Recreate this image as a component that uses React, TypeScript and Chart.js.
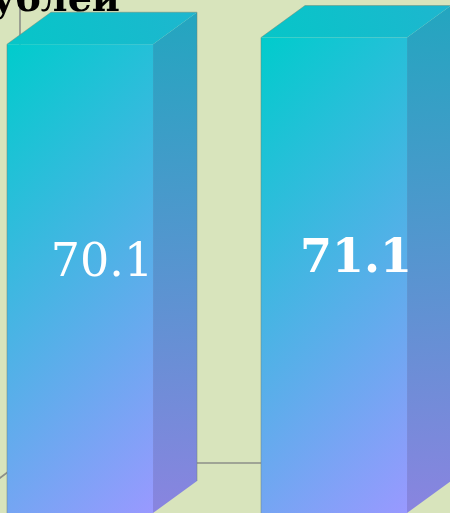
import React, { useEffect, useRef } from "react";
import { Chart, registerables } from "chart.js";

Chart.register(...registerables);

// ---- data ----
const categories = ["1", "2"];
const values = [70.1, 71.1];
const labelBold = [false, true];
const valueMin = 0;
const valueMax = 80;
const titleText = "рублей";

// ---- styling ----
const BG = "#d8e4bc";
const DEPTH = { dx: 44, dy: -32 };
const WALL = { dx: 67, dy: -50 };
const CANVAS_W = 600;
const CANVAS_H = 620;
const OFFSET_X = 100;
const OFFSET_Y = 80;

function grad(ctx: CanvasRenderingContext2D, x0: number, y0: number, x1: number, y1: number, c0: string, c1: string) {
  const g = ctx.createLinearGradient(x0, y0, x1, y1);
  g.addColorStop(0, c0);
  g.addColorStop(1, c1);
  return g;
}

const bar3d = {
  id: "bar3d",
  beforeDraw(chart: any) {
    const ctx = chart.ctx;
    ctx.save();
    ctx.fillStyle = BG;
    ctx.fillRect(0, 0, chart.width, chart.height);
    ctx.restore();
  },
  beforeDatasetsDraw(chart: any) {
    const { ctx, chartArea: a, scales } = chart;
    const y = scales.y;
    const y0 = y.getPixelForValue(valueMin);
    const yTop = y.getPixelForValue(valueMax);
    const wx = a.left + WALL.dx;
    const wy = y0 + WALL.dy;
    ctx.save();
    ctx.strokeStyle = "#8c8f88";
    ctx.lineWidth = 1.6;
    ctx.beginPath();
    ctx.moveTo(wx, yTop + WALL.dy);
    ctx.lineTo(wx, wy);
    ctx.lineTo(a.right + WALL.dx, wy);
    ctx.moveTo(wx, wy);
    ctx.lineTo(a.left, y0);
    ctx.stroke();
    ctx.restore();
  },
  afterDatasetsDraw(chart: any) {
    const ctx: CanvasRenderingContext2D = chart.ctx;
    const meta = chart.getDatasetMeta(0);
    const { dx, dy } = DEPTH;
    meta.data.forEach((bar: any, i: number) => {
      const { x, y: top, base, width } = bar.getProps(["x", "y", "base", "width"], true);
      const l = x - width / 2;
      const r = x + width / 2;
      const h = base - top;
      ctx.save();
      // side face
      ctx.beginPath();
      ctx.moveTo(r, top);
      ctx.lineTo(r + dx, top + dy);
      ctx.lineTo(r + dx, base + dy);
      ctx.lineTo(r, base);
      ctx.closePath();
      ctx.fillStyle = grad(ctx, r, top + dy, r + dx, base, "#22a6bf", "#8a84e0");
      ctx.fill();
      // top face
      ctx.beginPath();
      ctx.moveTo(l, top);
      ctx.lineTo(r, top);
      ctx.lineTo(r + dx, top + dy);
      ctx.lineTo(l + dx, top + dy);
      ctx.closePath();
      ctx.fillStyle = grad(ctx, l, top, r + dx, top + dy, "#06c6c8", "#1eb6cf");
      ctx.fill();
      // front face
      const s = (width + h) / 2;
      ctx.fillStyle = grad(ctx, l, top, l + s, top + s, "#00cccc", "#9999ff");
      ctx.fillRect(l, top, width, h);
      // thin edges
      ctx.strokeStyle = "rgba(110,130,110,0.45)";
      ctx.lineWidth = 1;
      ctx.beginPath();
      ctx.moveTo(l, base);
      ctx.lineTo(l, top);
      ctx.lineTo(l + dx, top + dy);
      ctx.lineTo(r + dx, top + dy);
      ctx.lineTo(r + dx, base + dy);
      ctx.stroke();
      // label
      const v = values[i];
      ctx.fillStyle = "#ffffff";
      ctx.font = `${labelBold[i] ? "bold " : ""}46px "DejaVu Serif"`;
      ctx.textAlign = "center";
      ctx.textBaseline = "middle";
      ctx.fillText(v.toFixed(1), x + dx / 2, (top + base) / 2 + dy / 2 + 1);
      ctx.restore();
    });
  },
  afterDraw(chart: any) {
    const ctx: CanvasRenderingContext2D = chart.ctx;
    ctx.save();
    ctx.fillStyle = "#000000";
    ctx.font = 'bold 38px "DejaVu Serif"';
    ctx.textAlign = "right";
    ctx.textBaseline = "alphabetic";
    ctx.fillText(titleText, 120 + OFFSET_X, 11 + OFFSET_Y);
    ctx.restore();
  },
};

export default function App() {
  const ref = useRef<HTMLCanvasElement | null>(null);
  useEffect(() => {
    document.body.style.margin = "0";
    document.body.style.background = BG;
    const canvas = ref.current!;
    const chart = new Chart(canvas, {
      type: "bar",
      data: {
        labels: categories,
        datasets: [
          {
            data: values,
            backgroundColor: "transparent",
            borderWidth: 0,
            categoryPercentage: 1,
            barPercentage: 0.575,
          },
        ],
      },
      options: {
        animation: false,
        responsive: false,
        devicePixelRatio: 1,
        layout: { padding: { left: 53, right: 39, top: 58, bottom: 27 } },
        plugins: { legend: { display: false }, title: { display: false }, tooltip: { enabled: false } },
        scales: {
          x: { display: false, offset: true, grid: { display: false } },
          y: { display: false, min: valueMin, max: valueMax, grid: { display: false } },
        },
      },
      plugins: [bar3d],
    });
    return () => chart.destroy();
  }, []);
  return (
    <div style={{ position: "fixed", left: 0, top: 0, width: 450, height: 513, overflow: "hidden", background: BG }}>
      <canvas
        ref={ref}
        width={CANVAS_W}
        height={CANVAS_H}
        style={{ position: "absolute", left: -OFFSET_X, top: -OFFSET_Y, width: CANVAS_W, height: CANVAS_H }}
      />
    </div>
  );
}
